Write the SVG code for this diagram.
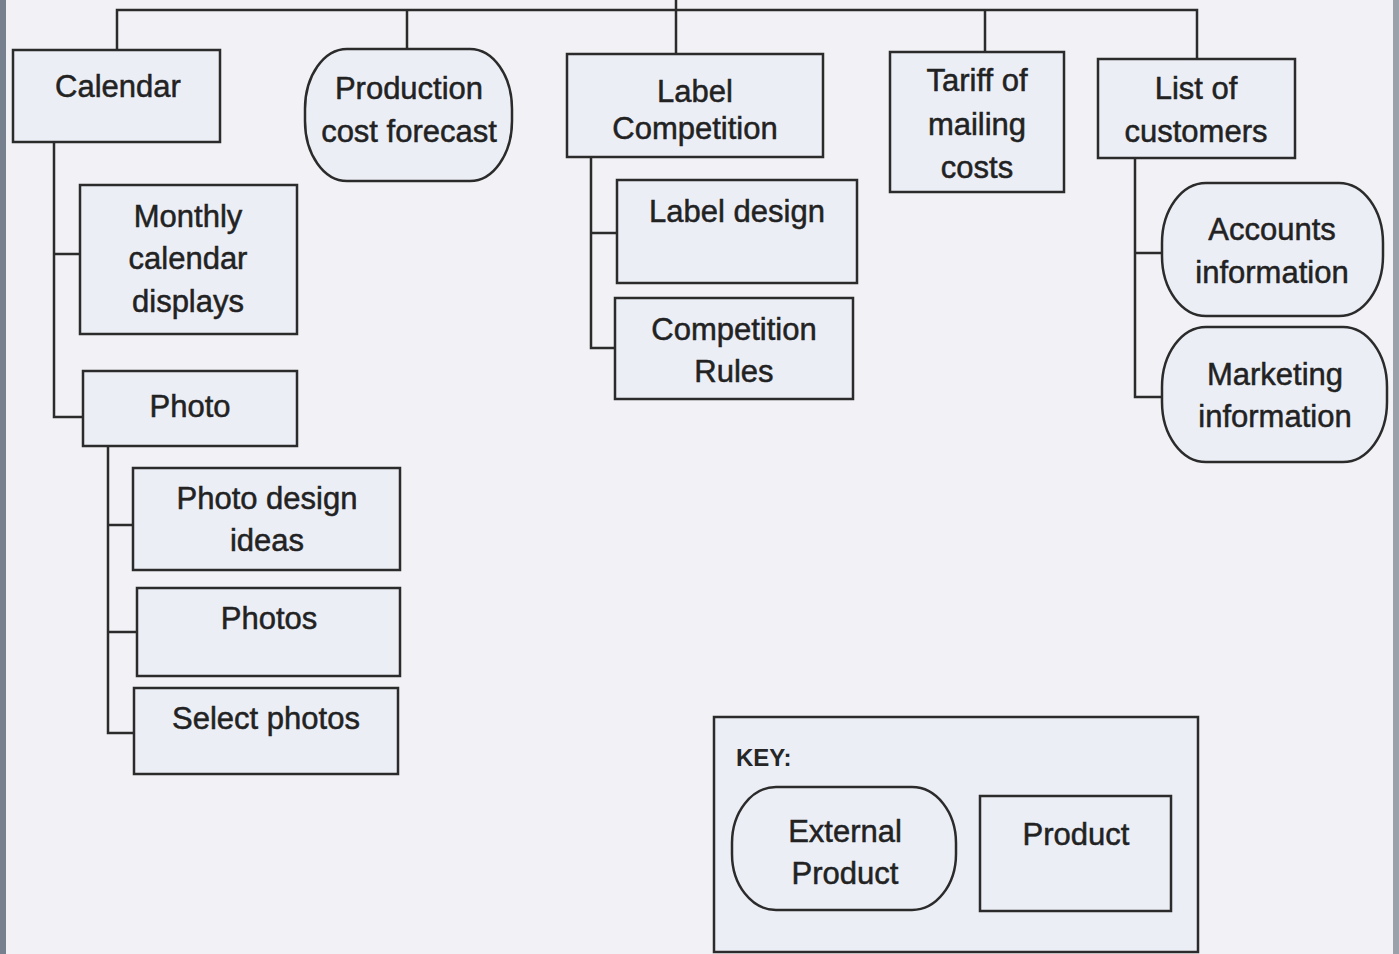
<svg xmlns="http://www.w3.org/2000/svg" width="1399" height="954" viewBox="0 0 1399 954">
<style>
.bx{fill:#eceef6;stroke:#2b2b2b;stroke-width:2.5}
.t{font-family:"Liberation Sans",Arial,sans-serif;font-size:31px;fill:#222;stroke:#222;stroke-width:0.5;text-anchor:middle}
.k{font-family:"Liberation Sans",Arial,sans-serif;font-size:24px;font-weight:bold;fill:#262626}
.c{fill:none;stroke:#2b2b2b;stroke-width:2.5}
</style>
<rect width="1399" height="954" fill="#f2f2f6"/>
<rect x="0" y="0" width="6" height="954" fill="#76808f"/>
<rect x="1393" y="0" width="6" height="954" fill="#9aa1ab"/>
<g id="connectors">
<path class="c" d="M117 50V10H1197V59M407 10V49M676 0V54M985 10V52"/>
<path class="c" d="M54 142V417H83M54 254H80"/>
<path class="c" d="M108 446V733H134M108 525H133M108 632H137"/>
<path class="c" d="M591 157V348H615M591 233H617"/>
<path class="c" d="M1135 158V397H1163M1135 253H1164"/>
</g>
<g id="calendar"><rect class="bx" x="13" y="50" width="207" height="92"/><text class="t" x="118" y="97">Calendar</text></g>
<g id="production"><rect class="bx" x="305" y="49" width="207" height="132" rx="42" ry="60"/><text class="t" x="409" y="99">Production</text><text class="t" x="409" y="142">cost forecast</text></g>
<g id="label-competition"><rect class="bx" x="567" y="54" width="256" height="103"/><text class="t" x="695" y="102">Label</text><text class="t" x="695" y="139">Competition</text></g>
<g id="tariff"><rect class="bx" x="890" y="52" width="174" height="140"/><text class="t" x="977" y="91">Tariff of</text><text class="t" x="977" y="135">mailing</text><text class="t" x="977" y="178">costs</text></g>
<g id="list-customers"><rect class="bx" x="1098" y="59" width="197" height="99"/><text class="t" x="1196" y="99">List of</text><text class="t" x="1196" y="142">customers</text></g>
<g id="monthly"><rect class="bx" x="80" y="185" width="217" height="149"/><text class="t" x="188" y="227">Monthly</text><text class="t" x="188" y="269">calendar</text><text class="t" x="188" y="312">displays</text></g>
<g id="photo"><rect class="bx" x="83" y="371" width="214" height="75"/><text class="t" x="190" y="417">Photo</text></g>
<g id="photo-design"><rect class="bx" x="133" y="468" width="267" height="102"/><text class="t" x="267" y="509">Photo design</text><text class="t" x="267" y="551">ideas</text></g>
<g id="photos"><rect class="bx" x="137" y="588" width="263" height="88"/><text class="t" x="269" y="629">Photos</text></g>
<g id="select-photos"><rect class="bx" x="134" y="688" width="264" height="86"/><text class="t" x="266" y="729">Select photos</text></g>
<g id="label-design"><rect class="bx" x="617" y="180" width="240" height="103"/><text class="t" x="737" y="222">Label design</text></g>
<g id="competition-rules"><rect class="bx" x="615" y="298" width="238" height="101"/><text class="t" x="734" y="340">Competition</text><text class="t" x="734" y="382">Rules</text></g>
<g id="accounts"><rect class="bx" x="1162" y="183" width="221" height="133" rx="44" ry="60"/><text class="t" x="1272" y="240">Accounts</text><text class="t" x="1272" y="283">information</text></g>
<g id="marketing"><rect class="bx" x="1162" y="327" width="225" height="135" rx="44" ry="60"/><text class="t" x="1275" y="385">Marketing</text><text class="t" x="1275" y="427">information</text></g>
<g id="key"><rect class="bx" x="714" y="717" width="484" height="235"/><text class="k" x="736" y="766">KEY:</text>
<rect class="bx" x="732" y="787" width="224" height="123" rx="44" ry="56"/><text class="t" x="845" y="842">External</text><text class="t" x="845" y="884">Product</text>
<rect class="bx" x="980" y="796" width="191" height="115"/><text class="t" x="1076" y="845">Product</text></g>
</svg>
